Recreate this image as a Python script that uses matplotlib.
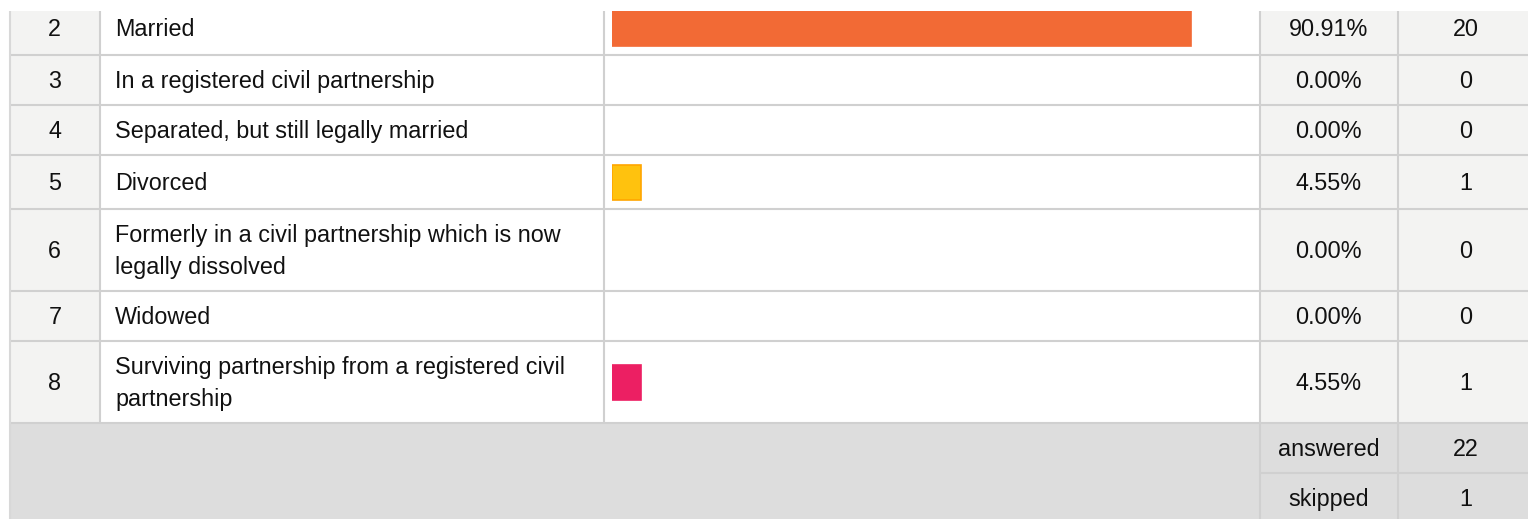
import matplotlib
matplotlib.use('Agg')
import matplotlib.pyplot as plt
from matplotlib.patches import Rectangle

plt.rcParams['font.family'] = ['Liberation Sans', 'DejaVu Sans']
plt.rcParams['font.size'] = 16.8

# survey answers
row_ids = ['2', '3', '4', '5', '6', '7', '8']
choices = ['Married',
           'In a registered civil partnership',
           'Separated, but still legally married',
           'Divorced',
           'Formerly in a civil partnership which is now\nlegally dissolved',
           'Widowed',
           'Surviving partnership from a registered civil\npartnership']
percents = [90.91, 0.00, 0.00, 4.55, 0.00, 0.00, 4.55]
counts = [20, 0, 0, 1, 0, 0, 1]
bar_colors = ['#f26a35', None, None, '#ffc20e', None, None, '#ec1f63']
bar_edges = ['#f26a35', None, None, '#ffa600', None, None, '#ec1f63']
summary_labels = ['answered', 'skipped']
summary_values = [22, 1]

# layout in pixels
W, H = 1528, 519
top_clip = 11
row_h = [54, 50, 50, 54, 82, 50, 82]
sum_h = [50, 50]
x_left, x_id, x_lab, x_bar, x_pct, x_cnt = 10, 99.5, 603.5, 1259.5, 1397.5, W
bar_x0, bar_full = 612, 637
grid = '#d0d0d0'
txt = '#111111'
dy = 1.5  # small nudge so glyphs sit like the reference

fig = plt.figure(figsize=(W / 100, H / 100), dpi=100)
pos = [0, 0, 1, (H - top_clip) / H]
ax = fig.add_axes(pos)
ax.set_xlim(0, W)
ax.set_ylim(H, top_clip)
ax.axis('off')

# row tops
tops = [1]
for h in row_h:
    tops.append(tops[-1] + h)
table_bottom = tops[-1]
centers = [tops[i] + row_h[i] / 2 for i in range(len(row_h))]

# backgrounds
ax.add_patch(Rectangle((x_left, 0), x_id - x_left, table_bottom, color='#f3f3f2', lw=0))
ax.add_patch(Rectangle((x_bar, 0), W - x_bar, table_bottom, color='#f3f3f2', lw=0))
ax.add_patch(Rectangle((x_left, table_bottom), W - x_left, H - table_bottom, color='#dddddd', lw=0))

# grid lines
lw = 1.5
for t in tops[1:]:
    ax.plot([x_left, W], [t, t], color=grid, lw=lw, solid_capstyle='butt')
for x in [x_id, x_lab]:
    ax.plot([x, x], [0, table_bottom], color=grid, lw=lw, solid_capstyle='butt')
for x in [x_bar, x_pct]:
    ax.plot([x, x], [0, H], color=grid, lw=lw, solid_capstyle='butt')
ax.plot([x_left, x_left], [0, H], color='#d8d8d8', lw=lw, solid_capstyle='butt')
ax.plot([x_bar, W], [table_bottom + sum_h[0]] * 2, color=grid, lw=lw, solid_capstyle='butt')

# text cells
for i in range(len(row_ids)):
    y = centers[i] + dy
    ax.text((x_left + x_id) / 2, y, row_ids[i], ha='center', va='center', color=txt)
    ax.text(115, y, choices[i], ha='left', va='center', color=txt, linespacing=1.52)
    ax.text((x_bar + x_pct) / 2, y, '%.2f%%' % percents[i], ha='center', va='center', color=txt)
    ax.text(1466, y, str(counts[i]), ha='center', va='center', color=txt)

y = table_bottom
for lab, val, h in zip(summary_labels, summary_values, sum_h):
    ax.text((x_bar + x_pct) / 2, y + h / 2 + dy, lab, ha='center', va='center', color=txt)
    ax.text(1466, y + h / 2 + dy, str(val), ha='center', va='center', color=txt)
    y += h

# bars in their own axes, scaled 0-100%
bx = fig.add_axes([bar_x0 / W, pos[1], bar_full / W, pos[3]])
bx.set_xlim(0, 100)
bx.set_ylim(H, top_clip)
bx.axis('off')
bx.patch.set_alpha(0)
for i in range(len(percents)):
    if percents[i] > 0:
        bx.barh(centers[i], percents[i], height=35, left=0,
                color=bar_colors[i], edgecolor=bar_edges[i], linewidth=1.2)

fig.savefig('out.png', dpi=100)
